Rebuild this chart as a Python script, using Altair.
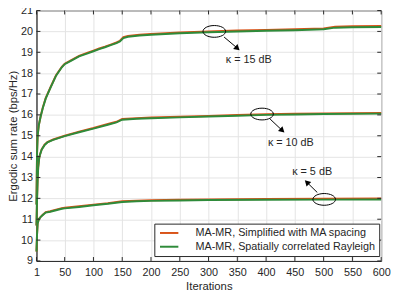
import altair as alt
import pandas as pd

# ---------------- data ----------------
S1 = "MA-MR, Simplified with MA spacing"
S2 = "MA-MR, Spatially correlated Rayleigh"

it15 = [1, 2, 3, 5, 8, 12, 17, 25, 35, 45, 50, 60, 75, 90, 100, 110, 120, 130, 140, 146, 152, 160, 180, 200, 250, 300, 350, 400, 450, 500, 520, 550, 600]
or15 = [11.7, 14.2, 15.0, 15.5, 15.9, 16.35, 16.8, 17.3, 17.9, 18.3, 18.45, 18.6, 18.83, 18.98, 19.08, 19.18, 19.27, 19.37, 19.47, 19.55, 19.72, 19.78, 19.84, 19.88, 19.95, 20.0, 20.04, 20.07, 20.1, 20.14, 20.23, 20.25, 20.26]
gr15 = [11.7, 14.2, 15.0, 15.5, 15.9, 16.33, 16.78, 17.28, 17.88, 18.28, 18.43, 18.58, 18.8, 18.95, 19.05, 19.15, 19.24, 19.34, 19.44, 19.52, 19.68, 19.74, 19.8, 19.84, 19.91, 19.96, 20.0, 20.03, 20.06, 20.1, 20.18, 20.2, 20.21]

it10 = [1, 2, 3, 4, 6, 10, 15, 20, 30, 50, 75, 100, 125, 140, 150, 175, 200, 250, 300, 350, 400, 450, 500, 600]
or10 = [10.7, 12.0, 12.9, 13.5, 14.0, 14.35, 14.57, 14.7, 14.82, 15.0, 15.2, 15.37, 15.56, 15.67, 15.8, 15.84, 15.87, 15.91, 15.95, 15.99, 16.03, 16.05, 16.07, 16.09]
gr10 = [10.7, 12.0, 12.9, 13.5, 14.0, 14.33, 14.55, 14.68, 14.8, 14.98, 15.17, 15.34, 15.53, 15.64, 15.77, 15.81, 15.84, 15.88, 15.92, 15.96, 16.0, 16.02, 16.04, 16.06]

it5 = [1, 2, 3, 5, 8, 12, 17, 25, 35, 45, 50, 75, 100, 125, 150, 175, 200, 250, 300, 400, 500, 600]
or5 = [9.45, 10.3, 10.8, 11.0, 11.1, 11.22, 11.34, 11.38, 11.46, 11.53, 11.55, 11.62, 11.7, 11.77, 11.86, 11.89, 11.91, 11.93, 11.95, 11.97, 11.98, 12.0]
gr5 = [9.45, 10.3, 10.8, 11.0, 11.1, 11.2, 11.32, 11.36, 11.43, 11.5, 11.52, 11.59, 11.67, 11.74, 11.83, 11.86, 11.88, 11.9, 11.92, 11.93, 11.94, 11.95]

x_ticks = [1, 50, 100, 150, 200, 250, 300, 350, 400, 450, 500, 550, 600]
y_ticks = list(range(9, 22))

ell_x = [310, 393, 501]
ell_y = [20.0, 16.04, 11.95]
arr_x1 = [327, 407, 489]
arr_y1 = [19.73, 15.80, 12.28]
arr_x2 = [349, 427, 472]
arr_y2 = [19.22, 15.28, 12.74]
arr_ang = [131, 133, 315]
lab_x = [370, 443, 480]
lab_y = [18.65, 14.65, 13.26]
labels = ["κ = 15 dB", "κ = 10 dB", "κ = 5 dB"]

# ---------------- tables ----------------
rows = []
for key, its, a, b in [("15", it15, or15, gr15), ("10", it10, or10, gr10), ("5", it5, or5, gr5)]:
    for i, v in zip(its, a):
        rows.append({"it": i, "rate": v, "series": S1, "grp": S1 + key, "o": 0})
    for i, v in zip(its, b):
        rows.append({"it": i, "rate": v, "series": S2, "grp": S2 + key, "o": 1})
df = pd.DataFrame(rows)

ann = pd.DataFrame({"ex": ell_x, "ey": ell_y, "x1": arr_x1, "y1": arr_y1,
                    "x2": arr_x2, "y2": arr_y2, "ang": arr_ang,
                    "lx": lab_x, "ly": lab_y, "lab": labels})
xt = pd.DataFrame({"t": x_ticks})
yt = pd.DataFrame({"t": y_ticks})

W, H = 351, 255
FONT = "Liberation Sans"
TXT = "#262626"

xs = alt.Scale(domain=[1, 600], nice=False, zero=False)
ys = alt.Scale(domain=[9, 21], nice=False, zero=False)

xaxis = alt.Axis(values=x_ticks, title="Iterations", grid=True, tickSize=0, labelPadding=6,
                 titlePadding=3, labelOverlap=False, labelFlush=False)
yaxis = alt.Axis(values=y_ticks, title="Ergodic sum rate (bps/Hz)", grid=True, tickSize=0,
                 labelPadding=4, labelOverlap=False, titleX=-20, titleY=H / 2,
                 titleBaseline="alphabetic", titleAngle=270)

def qx(f):
    return alt.X(f, type="quantitative", scale=xs, axis=xaxis)

def qy(f):
    return alt.Y(f, type="quantitative", scale=ys, axis=yaxis)

lines = alt.Chart(df).mark_line(strokeWidth=2).encode(
    x=qx("it"), y=qy("rate"),
    color=alt.Color("series:N", scale=alt.Scale(domain=[S1, S2], range=["#D95319", "#2E8B3A"]),
                    legend=alt.Legend(title=None, orient="none", legendX=120, legendY=217,
                                      symbolType="M-1,0L4,0", symbolSize=56, symbolStrokeWidth=2,
                                      labelFontSize=11, labelFont=FONT, labelColor=TXT,
                                      strokeColor="#262626", fillColor="white", padding=4,
                                      rowPadding=2, labelOffset=27, labelLimit=300)),
    detail="grp:N",
    order="o:Q",
)

ellipse = alt.Chart(ann).mark_point(
    shape="M-1,0A1,0.52,0,1,1,1,0A1,0.52,0,1,1,-1,0Z", size=529, filled=False,
    stroke="black", strokeWidth=1, opacity=1
).encode(x=qx("ex"), y=qy("ey"))

arrows = alt.Chart(ann).mark_rule(color="black", strokeWidth=1).encode(
    x=qx("x1"), y=qy("y1"), x2="x2:Q", y2="y2:Q")

heads = alt.Chart(ann).mark_point(shape="triangle", filled=True, color="black", size=45, opacity=1).encode(
    x=qx("x2"), y=qy("y2"), angle=alt.Angle("ang:Q", scale=None))

texts = alt.Chart(ann).mark_text(font=FONT, fontSize=11, color=TXT).encode(
    x=qx("lx"), y=qy("ly"), text="lab:N")

tk = dict(color=TXT, strokeWidth=1)
tb = alt.Chart(xt).mark_rule(**tk).encode(x=qx("t"), y=alt.value(H), y2=alt.value(H - 4))
tt = alt.Chart(xt).mark_rule(**tk).encode(x=qx("t"), y=alt.value(0), y2=alt.value(4))
tl = alt.Chart(yt).mark_rule(**tk).encode(y=qy("t"), x=alt.value(0), x2=alt.value(4))
tr = alt.Chart(yt).mark_rule(**tk).encode(y=qy("t"), x=alt.value(W), x2=alt.value(W - 4))

chart = alt.layer(lines, ellipse, arrows, heads, texts, tb, tt, tl, tr).properties(
    width=W, height=H, autosize=alt.AutoSizeParams(type="none"),
    padding={"left": 29, "top": 0, "right": 10, "bottom": 28},
).configure_view(stroke=TXT, strokeWidth=1).configure_axis(
    gridColor="#E3E3E3", gridWidth=1, domainColor=TXT, labelColor=TXT, titleColor=TXT,
    labelFont=FONT, titleFont=FONT, labelFontSize=11, titleFontSize=11.5, titleFontWeight="normal",
    labelOverlap=False,
)

chart.save("out.html", embed_options={"renderer": "svg", "actions": False})
